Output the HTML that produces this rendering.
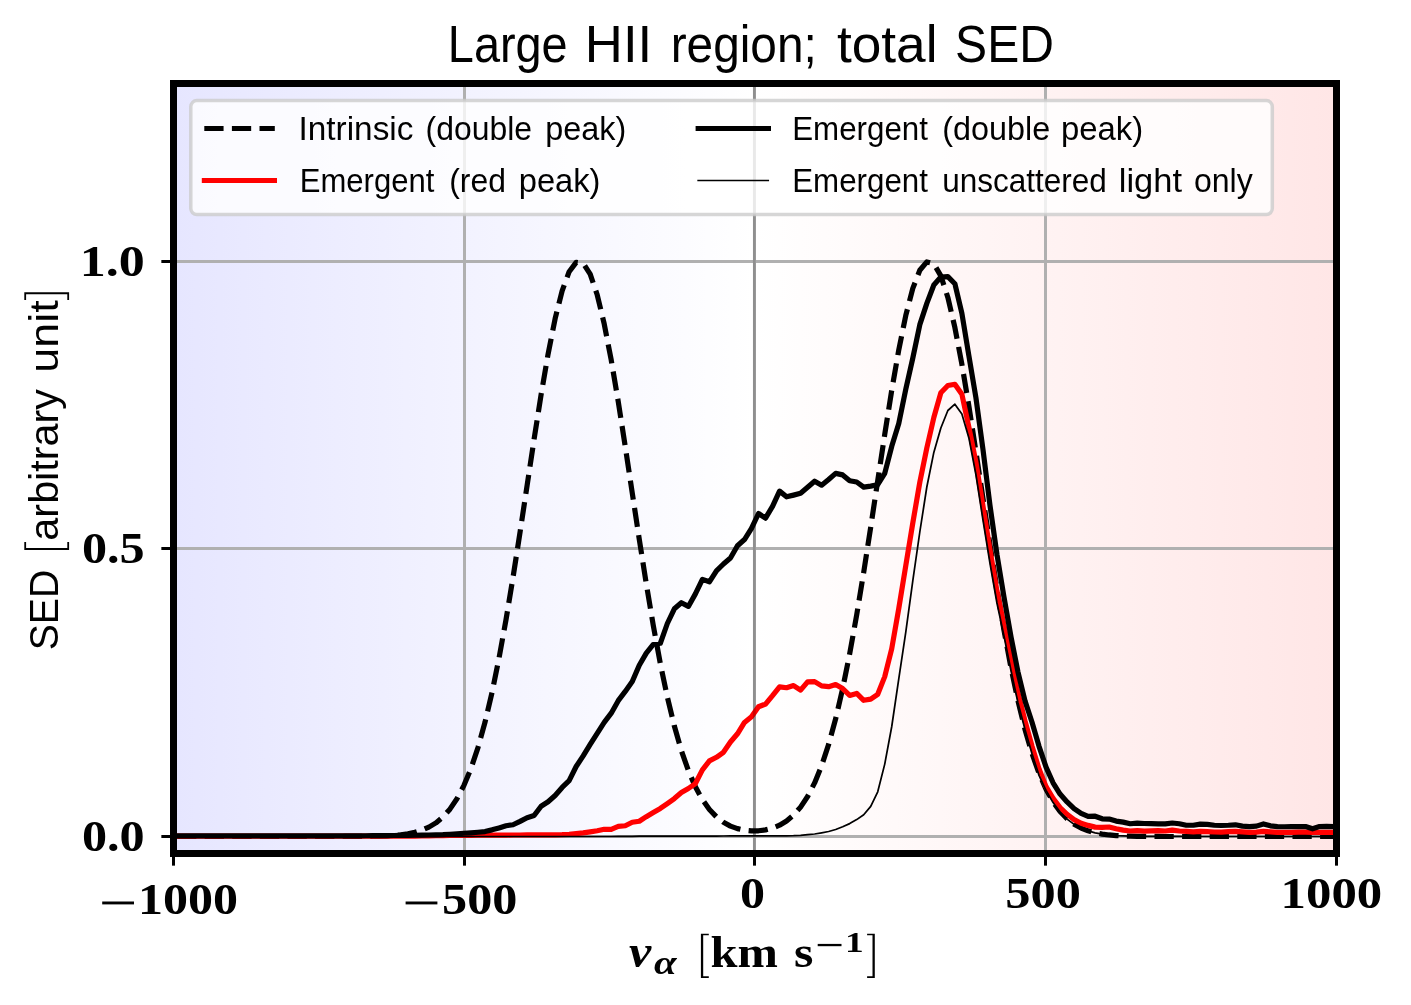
<!DOCTYPE html>
<html><head><meta charset="utf-8"><title>Large HII region; total SED</title>
<style>html,body{margin:0;padding:0;background:#fff;font-family:"Liberation Sans",sans-serif}svg{display:block}</style></head>
<body>
<svg width="1411" height="1005" viewBox="0 0 1411 1005">
<defs><linearGradient id="bg" x1="0" y1="0" x2="1" y2="0"><stop offset="0" stop-color="#e6e6ff"/><stop offset="0.5" stop-color="#ffffff"/><stop offset="1" stop-color="#ffe6e6"/></linearGradient>
<clipPath id="ax"><rect x="173.5" y="83.5" width="1163.0" height="770.0"/></clipPath></defs>
<rect x="0" y="0" width="1411" height="1005" fill="#fff"/>
<rect x="173.5" y="83.5" width="1163.0" height="770.0" fill="url(#bg)"/>
<line x1="464.5" y1="83.5" x2="464.5" y2="853.5" stroke="#b0b0b0" stroke-width="3"/>
<line x1="754.5" y1="83.5" x2="754.5" y2="853.5" stroke="#b0b0b0" stroke-width="3"/>
<line x1="1045.5" y1="83.5" x2="1045.5" y2="853.5" stroke="#b0b0b0" stroke-width="3"/>
<line x1="173.5" y1="836.5" x2="1336.5" y2="836.5" stroke="#b0b0b0" stroke-width="3"/>
<line x1="173.5" y1="548.5" x2="1336.5" y2="548.5" stroke="#b0b0b0" stroke-width="3"/>
<line x1="173.5" y1="261.5" x2="1336.5" y2="261.5" stroke="#b0b0b0" stroke-width="3"/>
<g clip-path="url(#ax)" fill="none" stroke-linejoin="round">
<path d="M57.20 836.50 L64.21 836.50 L71.23 836.50 L78.24 836.50 L85.25 836.50 L92.27 836.50 L99.28 836.50 L106.29 836.50 L113.30 836.50 L120.32 836.50 L127.33 836.50 L134.34 836.50 L141.36 836.50 L148.37 836.50 L155.38 836.50 L162.40 836.50 L169.41 836.50 L176.42 836.50 L183.44 836.50 L190.45 836.50 L197.46 836.50 L204.47 836.50 L211.49 836.50 L218.50 836.50 L225.51 836.50 L232.53 836.50 L239.54 836.50 L246.55 836.50 L253.57 836.50 L260.58 836.50 L267.59 836.50 L274.61 836.50 L281.62 836.50 L288.63 836.50 L295.64 836.50 L302.66 836.50 L309.67 836.50 L316.68 836.50 L323.70 836.50 L330.71 836.49 L337.72 836.49 L344.74 836.47 L351.75 836.45 L358.76 836.42 L365.77 836.36 L372.79 836.26 L379.80 836.09 L386.81 835.83 L393.83 835.41 L400.84 834.76 L407.85 833.78 L414.87 832.32 L421.88 830.19 L428.89 827.15 L435.91 822.88 L442.92 817.03 L449.93 809.15 L456.94 798.77 L463.96 785.37 L470.97 768.46 L477.98 747.55 L485.00 722.30 L492.01 692.49 L499.02 658.12 L506.04 619.48 L513.05 577.18 L520.06 532.14 L527.08 485.64 L534.09 439.23 L541.10 394.69 L548.11 353.90 L555.13 318.72 L562.14 290.86 L569.15 271.73 L576.17 262.33 L583.18 263.16 L590.19 274.18 L597.21 294.78 L604.22 323.92 L611.23 360.10 L618.25 401.60 L625.26 446.53 L632.27 493.02 L639.28 539.33 L646.30 583.93 L653.31 625.63 L660.32 663.52 L667.34 697.08 L674.35 726.07 L681.36 750.51 L688.38 770.65 L695.39 786.86 L702.40 799.64 L709.42 809.47 L716.43 816.86 L723.44 822.27 L730.45 826.10 L737.47 828.66 L744.48 830.20 L751.49 830.88 L758.51 830.78 L765.52 829.88 L772.53 828.08 L779.55 825.21 L786.56 820.99 L793.57 815.10 L800.58 807.10 L807.60 796.54 L814.61 782.90 L821.62 765.68 L828.64 744.44 L835.65 718.80 L842.66 688.60 L849.68 653.86 L856.69 614.89 L863.70 572.32 L870.72 527.14 L877.73 480.62 L884.74 434.37 L891.75 390.17 L898.77 349.90 L905.78 315.43 L912.79 288.43 L919.81 270.28 L926.82 261.93 L933.83 263.84 L940.85 275.89 L947.86 297.45 L954.87 327.40 L961.89 364.25 L968.90 406.22 L975.91 451.44 L982.92 498.04 L989.94 544.29 L996.95 588.71 L1003.96 630.12 L1010.98 667.67 L1017.99 700.84 L1025.00 729.44 L1032.02 753.51 L1039.03 773.32 L1046.04 789.25 L1053.06 801.79 L1060.07 811.46 L1067.08 818.76 L1074.09 824.15 L1081.11 828.06 L1088.12 830.83 L1095.13 832.76 L1102.15 834.08 L1109.16 834.96 L1116.17 835.54 L1123.19 835.91 L1130.20 836.14 L1137.21 836.29 L1144.23 836.38 L1151.24 836.43 L1158.25 836.46 L1165.26 836.48 L1172.28 836.49 L1179.29 836.49 L1186.30 836.50 L1193.32 836.50 L1200.33 836.50 L1207.34 836.50 L1214.36 836.50 L1221.37 836.50 L1228.38 836.50 L1235.39 836.50 L1242.41 836.50 L1249.42 836.50 L1256.43 836.50 L1263.45 836.50 L1270.46 836.50 L1277.47 836.50 L1284.49 836.50 L1291.50 836.50 L1298.51 836.50 L1305.53 836.50 L1312.54 836.50 L1319.55 836.50 L1326.56 836.50 L1333.58 836.50 L1340.59 836.50 L1347.60 836.50 L1354.62 836.50 L1361.63 836.50 L1368.64 836.50 L1375.66 836.50 L1382.67 836.50 L1389.68 836.50 L1396.70 836.50 L1403.71 836.50 L1410.72 836.50 L1417.73 836.50 L1424.75 836.50 L1431.76 836.50 L1438.77 836.50 L1445.79 836.50 L1452.80 836.50" stroke="#000" stroke-width="5.2" stroke-dasharray="19.27 8.33" stroke-dashoffset="-9.5"/>
<path d="M57.20 836.20 L64.21 836.20 L71.23 836.20 L78.24 836.20 L85.25 836.20 L92.27 836.20 L99.28 836.20 L106.29 836.20 L113.30 836.20 L120.32 836.20 L127.33 836.20 L134.34 836.20 L141.36 836.20 L148.37 836.20 L155.38 836.20 L162.40 836.20 L169.41 836.20 L176.42 836.20 L183.44 836.20 L190.45 836.20 L197.46 836.20 L204.47 836.20 L211.49 836.20 L218.50 836.20 L225.51 836.20 L232.53 836.20 L239.54 836.20 L246.55 836.20 L253.57 836.20 L260.58 836.20 L267.59 836.20 L274.61 836.20 L281.62 836.20 L288.63 836.20 L295.64 836.20 L302.66 836.20 L309.67 836.20 L316.68 836.20 L323.70 836.20 L330.71 836.20 L337.72 836.20 L344.74 836.20 L351.75 836.20 L358.76 836.20 L365.77 836.20 L372.79 836.20 L379.80 836.20 L386.81 836.20 L393.83 836.20 L400.84 836.20 L407.85 836.20 L414.87 836.08 L421.88 835.96 L428.89 835.84 L435.91 835.72 L442.92 835.60 L449.93 835.52 L456.94 835.44 L463.96 835.36 L470.97 835.28 L477.98 835.20 L485.00 835.16 L492.01 835.12 L499.02 835.08 L506.04 835.04 L513.05 835.00 L520.06 834.98 L527.08 834.96 L534.09 834.94 L541.10 834.92 L548.11 834.90 L555.13 834.80 L562.14 834.70 L569.15 834.30 L576.17 833.60 L583.18 832.84 L590.19 831.85 L597.21 830.72 L604.22 829.30 L611.23 829.30 L618.25 826.46 L625.26 825.75 L632.27 822.21 L639.28 821.22 L646.30 816.68 L653.31 812.48 L660.32 808.48 L667.34 803.55 L674.35 798.55 L681.36 792.60 L688.38 788.50 L695.39 783.55 L702.40 769.93 L709.42 760.83 L716.43 757.27 L723.44 752.29 L730.45 742.05 L737.47 733.80 L744.48 722.42 L751.49 716.73 L758.51 706.77 L765.52 704.07 L772.53 695.66 L779.55 686.83 L786.56 687.76 L793.57 685.56 L800.58 690.12 L807.60 681.83 L814.61 681.63 L821.62 685.87 L828.64 686.68 L835.65 684.49 L842.66 688.60 L849.68 695.40 L856.69 693.40 L863.70 700.30 L870.72 699.10 L877.73 694.30 L884.74 676.60 L891.75 648.60 L898.77 608.50 L905.78 565.60 L912.79 523.00 L919.81 482.30 L926.82 448.00 L933.83 417.50 L940.85 392.80 L947.86 385.50 L954.87 384.30 L961.89 394.30 L968.90 427.30 L975.91 462.20 L982.92 506.00 L989.94 549.60 L996.95 591.10 L1003.96 625.10 L1010.98 659.70 L1017.99 693.00 L1025.00 721.00 L1032.02 746.20 L1039.03 769.00 L1046.04 786.70 L1053.06 798.30 L1060.07 807.60 L1067.08 814.30 L1074.09 819.60 L1081.11 823.20 L1088.12 825.40 L1095.13 827.10 L1102.15 827.46 L1109.16 827.02 L1116.17 828.79 L1123.19 830.12 L1130.20 831.01 L1137.21 830.56 L1144.23 831.18 L1151.24 830.83 L1158.25 830.56 L1165.26 831.01 L1172.28 830.12 L1179.29 831.01 L1186.30 831.45 L1193.32 831.89 L1200.33 831.45 L1207.34 831.72 L1214.36 831.98 L1221.37 832.07 L1228.38 831.72 L1235.39 831.45 L1242.41 831.89 L1249.42 832.34 L1256.43 832.07 L1263.45 831.45 L1270.46 831.89 L1277.47 832.34 L1284.49 832.34 L1291.50 832.34 L1298.51 832.16 L1305.53 832.07 L1312.54 832.34 L1319.55 832.34 L1326.56 832.34 L1333.58 832.34 L1340.59 832.34 L1347.60 832.34 L1354.62 831.90 L1361.63 831.90 L1368.64 831.90 L1375.66 831.90 L1382.67 831.90 L1389.68 831.90 L1396.70 831.90 L1403.71 831.90 L1410.72 831.90 L1417.73 831.90 L1424.75 831.90 L1431.76 831.90 L1438.77 831.90 L1445.79 831.90 L1452.80 831.90" stroke="#f00" stroke-width="5.2" stroke-linecap="square"/>
<path d="M57.20 835.90 L64.21 835.90 L71.23 835.90 L78.24 835.90 L85.25 835.90 L92.27 835.90 L99.28 835.90 L106.29 835.90 L113.30 835.90 L120.32 835.90 L127.33 835.90 L134.34 835.90 L141.36 835.90 L148.37 835.90 L155.38 835.90 L162.40 835.90 L169.41 835.90 L176.42 835.90 L183.44 835.90 L190.45 835.90 L197.46 835.90 L204.47 835.90 L211.49 835.90 L218.50 835.90 L225.51 835.90 L232.53 835.90 L239.54 835.90 L246.55 835.90 L253.57 835.90 L260.58 835.90 L267.59 835.90 L274.61 835.90 L281.62 835.90 L288.63 835.90 L295.64 835.90 L302.66 835.90 L309.67 835.90 L316.68 835.90 L323.70 835.90 L330.71 835.90 L337.72 835.90 L344.74 835.86 L351.75 835.82 L358.76 835.78 L365.77 835.74 L372.79 835.70 L379.80 835.64 L386.81 835.58 L393.83 835.52 L400.84 835.46 L407.85 835.40 L414.87 835.27 L421.88 835.13 L428.89 835.00 L435.91 834.84 L442.92 834.68 L449.93 834.26 L456.94 833.83 L463.96 833.27 L470.97 832.84 L477.98 832.27 L485.00 831.57 L492.01 829.87 L499.02 827.88 L506.04 825.75 L513.05 824.76 L520.06 821.36 L527.08 817.68 L534.09 815.55 L541.10 806.19 L548.11 801.80 L555.13 795.56 L562.14 787.48 L569.15 780.68 L576.17 766.51 L583.18 755.85 L590.19 744.47 L597.21 733.37 L604.22 722.42 L611.23 713.17 L618.25 700.65 L625.26 691.41 L632.27 681.59 L639.28 665.23 L646.30 653.14 L653.31 644.47 L660.32 643.30 L667.34 623.50 L674.35 608.82 L681.36 602.70 L688.38 606.40 L695.39 593.88 L702.40 579.37 L709.42 581.79 L716.43 570.84 L723.44 564.01 L730.45 558.04 L737.47 545.80 L744.48 539.54 L751.49 528.45 L758.51 513.51 L765.52 518.15 L772.53 506.34 L779.55 491.12 L786.56 496.81 L793.57 495.11 L800.58 493.26 L807.60 487.28 L814.61 481.17 L821.62 485.15 L828.64 479.46 L835.65 473.34 L842.66 474.91 L849.68 480.74 L856.69 482.02 L863.70 487.14 L870.72 486.15 L877.73 484.72 L884.74 473.34 L891.75 446.32 L898.77 423.56 L905.78 389.20 L912.79 358.10 L919.81 324.68 L926.82 303.34 L933.83 284.99 L940.85 277.03 L947.86 276.60 L954.87 283.71 L961.89 313.30 L968.90 355.80 L975.91 397.60 L982.92 449.00 L989.94 505.10 L996.95 554.40 L1003.96 596.90 L1010.98 636.80 L1017.99 672.10 L1025.00 700.90 L1032.02 722.30 L1039.03 746.30 L1046.04 767.10 L1053.06 782.80 L1060.07 794.10 L1067.08 801.90 L1074.09 808.60 L1081.11 813.40 L1088.12 816.40 L1095.13 816.20 L1102.15 818.78 L1109.16 819.05 L1116.17 821.08 L1123.19 822.15 L1130.20 823.74 L1137.21 823.21 L1144.23 823.48 L1151.24 823.65 L1158.25 823.92 L1165.26 823.92 L1172.28 823.03 L1179.29 823.74 L1186.30 825.25 L1193.32 825.25 L1200.33 824.10 L1207.34 824.36 L1214.36 825.25 L1221.37 825.51 L1228.38 825.25 L1235.39 824.81 L1242.41 826.13 L1249.42 826.58 L1256.43 826.13 L1263.45 823.92 L1270.46 825.87 L1277.47 826.58 L1284.49 826.75 L1291.50 826.58 L1298.51 826.58 L1305.53 826.58 L1312.54 828.79 L1319.55 826.58 L1326.56 826.40 L1333.58 826.58 L1340.59 826.58 L1347.60 826.58 L1354.62 826.44 L1361.63 826.44 L1368.64 826.44 L1375.66 826.44 L1382.67 826.44 L1389.68 826.44 L1396.70 826.44 L1403.71 826.44 L1410.72 826.44 L1417.73 826.44 L1424.75 826.44 L1431.76 826.44 L1438.77 826.44 L1445.79 826.44 L1452.80 826.44" stroke="#000" stroke-width="5.2" stroke-linecap="square"/>
<path d="M57.20 836.50 L64.21 836.50 L71.23 836.50 L78.24 836.50 L85.25 836.50 L92.27 836.50 L99.28 836.50 L106.29 836.50 L113.30 836.50 L120.32 836.50 L127.33 836.50 L134.34 836.50 L141.36 836.50 L148.37 836.50 L155.38 836.50 L162.40 836.50 L169.41 836.50 L176.42 836.50 L183.44 836.50 L190.45 836.50 L197.46 836.50 L204.47 836.50 L211.49 836.50 L218.50 836.50 L225.51 836.50 L232.53 836.50 L239.54 836.50 L246.55 836.50 L253.57 836.50 L260.58 836.50 L267.59 836.50 L274.61 836.50 L281.62 836.50 L288.63 836.50 L295.64 836.50 L302.66 836.50 L309.67 836.50 L316.68 836.50 L323.70 836.50 L330.71 836.50 L337.72 836.50 L344.74 836.50 L351.75 836.50 L358.76 836.50 L365.77 836.50 L372.79 836.50 L379.80 836.50 L386.81 836.50 L393.83 836.50 L400.84 836.50 L407.85 836.50 L414.87 836.50 L421.88 836.50 L428.89 836.50 L435.91 836.50 L442.92 836.50 L449.93 836.50 L456.94 836.50 L463.96 836.50 L470.97 836.50 L477.98 836.50 L485.00 836.50 L492.01 836.50 L499.02 836.50 L506.04 836.50 L513.05 836.50 L520.06 836.50 L527.08 836.50 L534.09 836.50 L541.10 836.50 L548.11 836.50 L555.13 836.50 L562.14 836.50 L569.15 836.50 L576.17 836.50 L583.18 836.50 L590.19 836.50 L597.21 836.50 L604.22 836.50 L611.23 836.50 L618.25 836.30 L625.26 836.28 L632.27 836.26 L639.28 836.24 L646.30 836.22 L653.31 836.20 L660.32 836.18 L667.34 836.16 L674.35 836.14 L681.36 836.12 L688.38 836.10 L695.39 836.08 L702.40 836.06 L709.42 836.04 L716.43 836.02 L723.44 836.00 L730.45 835.98 L737.47 835.96 L744.48 835.94 L751.49 835.92 L758.51 835.90 L765.52 835.88 L772.53 835.85 L779.55 835.82 L786.56 835.80 L793.57 835.70 L800.58 835.30 L807.60 834.70 L814.61 834.00 L821.62 832.80 L828.64 831.50 L835.65 829.50 L842.66 826.70 L849.68 823.60 L856.69 819.60 L863.70 814.80 L870.72 806.40 L877.73 791.80 L884.74 764.10 L891.75 726.50 L898.77 678.90 L905.78 632.10 L912.79 580.80 L919.81 532.00 L926.82 487.00 L933.83 452.40 L940.85 428.00 L947.86 410.50 L954.87 404.20 L961.89 414.00 L968.90 437.90 L975.91 474.50 L982.92 519.60 L989.94 563.00 L996.95 603.00 L1003.96 635.90 L1010.98 670.50 L1017.99 702.90 L1025.00 729.40 L1032.02 753.70 L1039.03 775.50 L1046.04 790.35 L1053.06 802.56 L1060.07 811.99 L1067.08 819.12 L1074.09 824.39 L1081.11 828.21 L1088.12 830.93 L1095.13 832.82 L1102.15 834.12 L1109.16 834.98 L1116.17 835.55 L1123.19 835.92 L1130.20 836.15 L1137.21 836.29 L1144.23 836.38 L1151.24 836.43 L1158.25 836.46 L1165.26 836.48 L1172.28 836.49 L1179.29 836.49 L1186.30 836.50 L1193.32 836.50 L1200.33 836.50 L1207.34 836.50 L1214.36 836.50 L1221.37 836.50 L1228.38 836.50 L1235.39 836.50 L1242.41 836.50 L1249.42 836.50 L1256.43 836.50 L1263.45 836.50 L1270.46 836.50 L1277.47 836.50 L1284.49 836.50 L1291.50 836.50 L1298.51 836.50 L1305.53 836.50 L1312.54 836.50 L1319.55 836.50 L1326.56 836.50 L1333.58 836.50 L1340.59 836.50 L1347.60 836.50 L1354.62 836.50 L1361.63 836.50 L1368.64 836.50 L1375.66 836.50 L1382.67 836.50 L1389.68 836.50 L1396.70 836.50 L1403.71 836.50 L1410.72 836.50 L1417.73 836.50 L1424.75 836.50 L1431.76 836.50 L1438.77 836.50 L1445.79 836.50 L1452.80 836.50" stroke="#000" stroke-width="1.74" stroke-linecap="square"/>
</g>
<line x1="754.3" y1="83.5" x2="754.3" y2="853.5" stroke="#000" stroke-opacity="0.19" stroke-width="2.78"/>
<rect x="173.5" y="83.5" width="1163.0" height="770.0" fill="none" stroke="#000" stroke-width="7"/>
<line x1="173.5" y1="853.5" x2="173.5" y2="865.65" stroke="#000" stroke-width="3"/>
<line x1="464.5" y1="853.5" x2="464.5" y2="865.65" stroke="#000" stroke-width="3"/>
<line x1="754.5" y1="853.5" x2="754.5" y2="865.65" stroke="#000" stroke-width="3"/>
<line x1="1045.5" y1="853.5" x2="1045.5" y2="865.65" stroke="#000" stroke-width="3"/>
<line x1="1336.5" y1="853.5" x2="1336.5" y2="865.65" stroke="#000" stroke-width="3"/>
<line x1="161.35" y1="836.5" x2="173.5" y2="836.5" stroke="#000" stroke-width="3"/>
<line x1="161.35" y1="548.5" x2="173.5" y2="548.5" stroke="#000" stroke-width="3"/>
<line x1="161.35" y1="261.5" x2="173.5" y2="261.5" stroke="#000" stroke-width="3"/>
<rect x="190.8" y="100.6" width="1081.5" height="113.9" rx="6" ry="6" fill="#fff" fill-opacity="0.8" stroke="#ccc" stroke-opacity="0.8" stroke-width="3.47"/>
<line x1="204.3" y1="128.5" x2="274.8" y2="128.5" stroke="#000" stroke-width="5.2" stroke-dasharray="19.27 8.33"/>
<line x1="204.4" y1="180.5" x2="274.4" y2="180.5" stroke="#f00" stroke-width="5.2" stroke-linecap="square"/>
<line x1="698.2" y1="128.5" x2="768.4" y2="128.5" stroke="#000" stroke-width="5.2" stroke-linecap="square"/>
<line x1="698.2" y1="180.5" x2="768.2" y2="180.5" stroke="#000" stroke-width="1.74" stroke-linecap="square"/>
<g fill="#000" style="opacity:0.999"><text x="447.82" y="62.20" font-family="Liberation Sans" font-size="52" font-weight="normal" font-style="normal" textLength="119.87" lengthAdjust="spacingAndGlyphs">Large</text>
<text x="584.87" y="62.20" font-family="Liberation Sans" font-size="52" font-weight="normal" font-style="normal" textLength="67.34" lengthAdjust="spacingAndGlyphs">HII</text>
<text x="670.68" y="62.20" font-family="Liberation Sans" font-size="52" font-weight="normal" font-style="normal" textLength="146.12" lengthAdjust="spacingAndGlyphs">region;</text>
<text x="836.97" y="62.20" font-family="Liberation Sans" font-size="52" font-weight="normal" font-style="normal" textLength="100.56" lengthAdjust="spacingAndGlyphs">total</text>
<text x="955.08" y="62.20" font-family="Liberation Sans" font-size="52" font-weight="normal" font-style="normal" textLength="98.82" lengthAdjust="spacingAndGlyphs">SED</text>
<text x="298.51" y="139.90" font-family="Liberation Sans" font-size="33.6" font-weight="normal" font-style="normal" textLength="114.91" lengthAdjust="spacingAndGlyphs">Intrinsic</text>
<text x="425.55" y="139.90" font-family="Liberation Sans" font-size="33.6" font-weight="normal" font-style="normal" textLength="106.48" lengthAdjust="spacingAndGlyphs">(double</text>
<text x="545.31" y="139.90" font-family="Liberation Sans" font-size="33.6" font-weight="normal" font-style="normal" textLength="80.96" lengthAdjust="spacingAndGlyphs">peak)</text>
<text x="299.76" y="191.90" font-family="Liberation Sans" font-size="33.6" font-weight="normal" font-style="normal" textLength="134.63" lengthAdjust="spacingAndGlyphs">Emergent</text>
<text x="449.25" y="191.90" font-family="Liberation Sans" font-size="33.6" font-weight="normal" font-style="normal" textLength="56.71" lengthAdjust="spacingAndGlyphs">(red</text>
<text x="518.73" y="191.90" font-family="Liberation Sans" font-size="33.6" font-weight="normal" font-style="normal" textLength="81.76" lengthAdjust="spacingAndGlyphs">peak)</text>
<text x="792.16" y="139.90" font-family="Liberation Sans" font-size="33.6" font-weight="normal" font-style="normal" textLength="135.83" lengthAdjust="spacingAndGlyphs">Emergent</text>
<text x="942.34" y="139.90" font-family="Liberation Sans" font-size="33.6" font-weight="normal" font-style="normal" textLength="107.90" lengthAdjust="spacingAndGlyphs">(double</text>
<text x="1060.89" y="139.90" font-family="Liberation Sans" font-size="33.6" font-weight="normal" font-style="normal" textLength="82.24" lengthAdjust="spacingAndGlyphs">peak)</text>
<text x="792.16" y="191.90" font-family="Liberation Sans" font-size="33.6" font-weight="normal" font-style="normal" textLength="135.83" lengthAdjust="spacingAndGlyphs">Emergent</text>
<text x="942.17" y="191.90" font-family="Liberation Sans" font-size="33.6" font-weight="normal" font-style="normal" textLength="164.68" lengthAdjust="spacingAndGlyphs">unscattered</text>
<text x="1118.74" y="191.90" font-family="Liberation Sans" font-size="33.6" font-weight="normal" font-style="normal" textLength="63.25" lengthAdjust="spacingAndGlyphs">light</text>
<text x="1193.95" y="191.90" font-family="Liberation Sans" font-size="33.6" font-weight="normal" font-style="normal" textLength="58.86" lengthAdjust="spacingAndGlyphs">only</text>
<text transform="translate(58.00 650.28) rotate(-90)" x="0" y="0" font-family="Liberation Sans" font-size="40.5" font-weight="normal" font-style="normal" textLength="80.55" lengthAdjust="spacingAndGlyphs">SED</text>
<text transform="translate(58.00 540.63) rotate(-90)" x="0" y="0" font-family="Liberation Sans" font-size="40.5" font-weight="normal" font-style="normal" textLength="151.63" lengthAdjust="spacingAndGlyphs">arbitrary</text>
<text transform="translate(58.00 372.70) rotate(-90)" x="0" y="0" font-family="Liberation Sans" font-size="40.5" font-weight="normal" font-style="normal" textLength="72.31" lengthAdjust="spacingAndGlyphs">unit</text>
<text x="138.01" y="914.00" font-family="Liberation Serif" font-size="43.6" font-weight="bold" font-style="normal" textLength="100.07" lengthAdjust="spacingAndGlyphs">1000</text>
<text x="442.14" y="914.00" font-family="Liberation Serif" font-size="43.6" font-weight="bold" font-style="normal" textLength="75.34" lengthAdjust="spacingAndGlyphs">500</text>
<text x="739.97" y="907.80" font-family="Liberation Serif" font-size="43.6" font-weight="bold" font-style="normal" textLength="25.04" lengthAdjust="spacingAndGlyphs">0</text>
<text x="1005.30" y="907.80" font-family="Liberation Serif" font-size="43.6" font-weight="bold" font-style="normal" textLength="75.56" lengthAdjust="spacingAndGlyphs">500</text>
<text x="1280.60" y="907.80" font-family="Liberation Serif" font-size="43.6" font-weight="bold" font-style="normal" textLength="101.70" lengthAdjust="spacingAndGlyphs">1000</text>
<text x="79.68" y="275.80" font-family="Liberation Serif" font-size="43.6" font-weight="bold" font-style="normal" textLength="65.04" lengthAdjust="spacingAndGlyphs">1.0</text>
<text x="81.91" y="563.30" font-family="Liberation Serif" font-size="43.6" font-weight="bold" font-style="normal" textLength="62.76" lengthAdjust="spacingAndGlyphs">0.5</text>
<text x="81.91" y="850.80" font-family="Liberation Serif" font-size="43.6" font-weight="bold" font-style="normal" textLength="62.76" lengthAdjust="spacingAndGlyphs">0.0</text>
<text x="629.00" y="966.60" font-family="Liberation Serif" font-size="46" font-weight="bold" font-style="italic" textLength="22.22" lengthAdjust="spacingAndGlyphs">v</text>
<text x="654.00" y="974.30" font-family="Liberation Serif" font-size="33" font-weight="bold" font-style="italic" textLength="22.62" lengthAdjust="spacingAndGlyphs">α</text>
<text x="710.59" y="966.60" font-family="Liberation Serif" font-size="44" font-weight="bold" font-style="normal" textLength="67.42" lengthAdjust="spacingAndGlyphs">km</text>
<text x="793.90" y="966.60" font-family="Liberation Serif" font-size="44" font-weight="bold" font-style="normal" textLength="19.38" lengthAdjust="spacingAndGlyphs">s</text>
<text x="845.08" y="951.50" font-family="Liberation Serif" font-size="29" font-weight="bold" font-style="normal" textLength="18.70" lengthAdjust="spacingAndGlyphs">1</text>
<rect x="102.2" y="901.5" width="31.8" height="2.9" fill="#000"/>
<rect x="405.6" y="901.5" width="31.8" height="2.9" fill="#000"/>
<rect x="817.7" y="943.9" width="23.8" height="2.3" fill="#000"/>
<path d="M708.8 933.7H700.9V977.9H708.8V976.3H703.2V935.3H708.8Z" fill="#000"/>
<path d="M867.1 933.7H874.8V977.9H867.1V976.3H872.5V935.3H867.1Z" fill="#000"/>
<path d="M24.3 542H26.1V548H67.3V542H69.1V550H24.3Z" fill="#000"/>
<path d="M24.3 299.9H26.1V294.3H67.3V299.9H69.1V292.3H24.3Z" fill="#000"/></g>
</svg>
</body></html>
